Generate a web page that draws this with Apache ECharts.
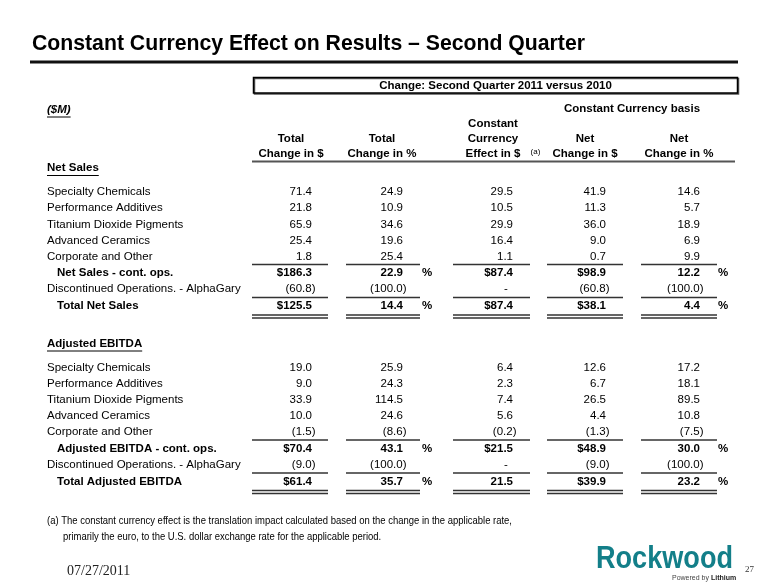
<!DOCTYPE html>
<html><head><meta charset="utf-8">
<script src="https://cdn.jsdelivr.net/npm/echarts@6/dist/echarts.min.js"></script>
<style>html,body{margin:0;padding:0;background:#fff}#c{width:780px;height:585px}</style>
</head><body><div id="c"></div>
<script>
// ---------------- data ----------------
const titleText = 'Constant Currency Effect on Results \u2013 Second Quarter';
const boxText = 'Change: Second Quarter 2011 versus 2010';
const unitsLabel = '($M)';
const basisLabel = 'Constant Currency basis';
const headerLine1 = ['', '', 'Constant', '', ''];
const headerLine2 = ['Total', 'Total', 'Currency', 'Net', 'Net'];
const headerLine3 = ['Change in $', 'Change in %', 'Effect in $', 'Change in $', 'Change in %'];
const segmentNames = ['Specialty Chemicals', 'Performance Additives', 'Titanium Dioxide Pigments', 'Advanced Ceramics', 'Corporate and Other'];

const salesTitle = 'Net Sales';
const salesTotalChg = [71.4, 21.8, 65.9, 25.4, 1.8];
const salesTotalPct = [24.9, 10.9, 34.6, 19.6, 25.4];
const salesFxEffect = [29.5, 10.5, 29.9, 16.4, 1.1];
const salesNetChg = [41.9, 11.3, 36.0, 9.0, 0.7];
const salesNetPct = [14.6, 5.7, 18.9, 6.9, 9.9];
const salesContLabel = 'Net Sales - cont. ops.';
const salesCont = [186.3, 22.9, 87.4, 98.9, 12.2];
const salesDiscLabel = 'Discontinued Operations. - AlphaGary';
const salesDisc = [-60.8, -100.0, null, -60.8, -100.0];
const salesTotalLabel = 'Total Net Sales';
const salesTotal = [125.5, 14.4, 87.4, 38.1, 4.4];

const ebitdaTitle = 'Adjusted EBITDA';
const ebitdaTotalChg = [19.0, 9.0, 33.9, 10.0, -1.5];
const ebitdaTotalPct = [25.9, 24.3, 114.5, 24.6, -8.6];
const ebitdaFxEffect = [6.4, 2.3, 7.4, 5.6, -0.2];
const ebitdaNetChg = [12.6, 6.7, 26.5, 4.4, -1.3];
const ebitdaNetPct = [17.2, 18.1, 89.5, 10.8, -7.5];
const ebitdaContLabel = 'Adjusted EBITDA - cont. ops.';
const ebitdaCont = [70.4, 43.1, 21.5, 48.9, 30.0];
const ebitdaDiscLabel = 'Discontinued Operations. - AlphaGary';
const ebitdaDisc = [-9.0, -100.0, null, -9.0, -100.0];
const ebitdaTotalLabel = 'Total Adjusted EBITDA';
const ebitdaTotal = [61.4, 35.7, 21.5, 39.9, 23.2];

// which columns carry a "$" sign on subtotal/total rows
const salesContDollar = [true, false, true, true, false];
const salesTotalDollar = [true, false, true, true, false];
const ebitdaContDollar = [true, false, true, true, false];
const ebitdaTotalDollar = [true, false, false, true, false];

const footnote1 = '(a) The constant currency effect is the translation impact calculated based on the change in the applicable rate,';
const footnote2 = 'primarily the euro, to the U.S. dollar exchange rate for the applicable period.';
const dateText = '07/27/2011';
const pageNum = '27';
const logoText = 'Rockwood';

// ---------------- layout ----------------
const SANS = '"Liberation Sans", Arial, sans-serif';
const FS = 11.5;
const colCenter = [291, 382, 493, 585, 679];
const colRight = [312, 403, 513, 606, 700];
const segX = [[252, 328], [346, 420], [453, 530], [547, 623], [641, 717]];
const pctX = [null, 427, null, null, 723];
const labelX = 47, indentX = 57;
const LINE = '#333';

const mctx = document.createElement('canvas').getContext('2d');
function tw(s, font) { mctx.font = font; return mctx.measureText(s).width; }

const els = [];
function text(x, y, s, o) {
  o = o || {};
  const font = o.font || (FS + 'px ' + SANS);
  const st = { text: s, font: font, fill: o.fill || '#000',
    align: o.align || 'left', verticalAlign: 'middle',
    textAlign: o.align || 'left', textVerticalAlign: 'middle' };
  const el = { type: 'text', x: x, y: y, silent: true, style: st };
  if (o.scaleX) el.scaleX = o.scaleX;
  els.push(el);
}
function line(x1, y1, x2, y2, w, c) {
  els.push({ type: 'line', silent: true, shape: { x1: x1, y1: y1, x2: x2, y2: y2 },
    style: { stroke: c || LINE, lineWidth: w || 1.5 } });
}
function fmt(v, dollar) {
  if (v === null) return null;
  const a = Math.abs(v).toFixed(1);
  return (v < 0) ? '(' + a + ')' : (dollar ? '$' + a : a);
}
function valueRow(y, vals, bold, dollars, showPct) {
  const font = (bold ? 'bold ' : '') + FS + 'px ' + SANS;
  vals.forEach(function (v, i) {
    if (v === null) { text(colRight[i] - 7, y, '-', { font: font, align: 'center' }); return; }
    const s = fmt(v, dollars && dollars[i]);
    const rx = v < 0 ? colRight[i] + 3.5 : colRight[i];
    text(rx, y, s, { font: font, align: 'right' });
  });
  if (showPct) pctX.forEach(function (px) { if (px) text(px, y, '%', { font: font, align: 'center' }); });
}
function underlineSegs(y, dbl) {
  segX.forEach(function (s) {
    line(s[0], y, s[1], y, 1.5);
    if (dbl) line(s[0], y + 3, s[1], y + 3, 1.5);
  });
}

// title
const titleFont = 'bold 22px ' + SANS;
text(32, 44, titleText, { font: titleFont, scaleX: 553 / tw(titleText, titleFont) });
line(30, 62, 738, 62, 3, '#111');

// box
els.push({ type: 'rect', silent: true, shape: { x: 253.5, y: 77.5, width: 484, height: 15.5 },
  style: { fill: '#fff', stroke: '#000', lineWidth: 1.5, shadowColor: '#555', shadowOffsetX: 1, shadowOffsetY: 1, shadowBlur: 0 } });
text(495.5, 85.5, boxText, { font: 'bold ' + FS + 'px ' + SANS, align: 'center' });

// units + basis
const ufont = 'italic bold ' + FS + 'px ' + SANS;
text(labelX, 110, unitsLabel, { font: ufont });
line(labelX, 117, labelX + tw(unitsLabel, ufont), 117, 1, '#000');
text(632, 109, basisLabel, { font: 'bold ' + FS + 'px ' + SANS, align: 'center' });

// column headers
const hfont = 'bold ' + FS + 'px ' + SANS;
headerLine1.forEach(function (h, i) { if (h) text(colCenter[i], 124, h, { font: hfont, align: 'center' }); });
headerLine2.forEach(function (h, i) { text(colCenter[i], 139, h, { font: hfont, align: 'center' }); });
headerLine3.forEach(function (h, i) { text(colCenter[i], 154, h, { font: hfont, align: 'center' }); });
text(535.5, 152, '(a)', { font: '8px ' + SANS, align: 'center' });
line(252, 161.5, 735, 161.5, 2, '#555');

// sections
function section(y0, title, cols, contLabel, cont, contDollar, discLabel, disc, totLabel, tot, totDollar) {
  const step = 16.2;
  const sfont = 'bold ' + FS + 'px ' + SANS;
  text(labelX, y0 - 24, title, { font: sfont });
  line(labelX, y0 - 16.5, labelX + tw(title, sfont), y0 - 16.5, 1, '#000');
  segmentNames.forEach(function (n, r) {
    const y = y0 + r * step;
    text(labelX, y, n);
    valueRow(y, cols.map(function (c) { return c[r]; }), false, null, false);
  });
  const yc = y0 + 5 * step;
  underlineSegs(yc - 8.5, false);
  text(indentX, yc, contLabel, { font: sfont });
  valueRow(yc, cont, true, contDollar, true);
  const yd = y0 + 6 * step;
  text(labelX, yd, discLabel);
  valueRow(yd, disc, false, null, false);
  const yt = y0 + 7 * step + 0.5;
  underlineSegs(yt - 8.5, false);
  text(indentX, yt, totLabel, { font: sfont });
  valueRow(yt, tot, true, totDollar, true);
  underlineSegs(yt + 9, true);
}
section(192, salesTitle, [salesTotalChg, salesTotalPct, salesFxEffect, salesNetChg, salesNetPct],
  salesContLabel, salesCont, salesContDollar, salesDiscLabel, salesDisc, salesTotalLabel, salesTotal, salesTotalDollar);
section(367.5, ebitdaTitle, [ebitdaTotalChg, ebitdaTotalPct, ebitdaFxEffect, ebitdaNetChg, ebitdaNetPct],
  ebitdaContLabel, ebitdaCont, ebitdaContDollar, ebitdaDiscLabel, ebitdaDisc, ebitdaTotalLabel, ebitdaTotal, ebitdaTotalDollar);

// footnote
const fnFont = '10.5px ' + SANS;
const fnScale = 465 / tw(footnote1, fnFont);
text(47, 521, footnote1, { font: fnFont, scaleX: fnScale });
text(63, 537, footnote2, { font: fnFont, scaleX: fnScale });

// footer
text(67, 571, dateText, { font: '14px "Liberation Serif", "Times New Roman", serif', fill: '#222' });
text(745, 570, pageNum, { font: '9px "Liberation Serif", serif', fill: '#333' });
const logoFont = 'bold 32px ' + SANS;
text(596, 559, logoText, { font: logoFont, fill: '#137f89', scaleX: 137 / tw(logoText, logoFont) });
const pbFont = '7px ' + SANS;
text(672, 578, 'Powered by', { font: pbFont, fill: '#444' });
text(672 + tw('Powered by ', pbFont), 578, 'Lithium', { font: 'bold 7px ' + SANS, fill: '#222' });

const chart = echarts.init(document.getElementById('c'), null, { renderer: 'canvas' });
chart.setOption({ backgroundColor: '#fff', animation: false, graphic: { elements: els } });
</script>
</body></html>
